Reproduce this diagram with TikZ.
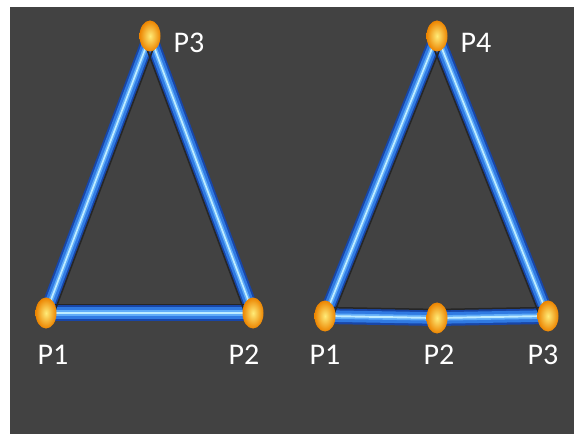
\documentclass[tikz,border=0pt]{standalone}
\usepackage{fontspec}
\setmainfont{Carlito}
\usetikzlibrary{calc,shapes.geometric}
\definecolor{bgGrey}{RGB}{66,66,66}
\definecolor{tubeDark}{RGB}{24,70,168}
\definecolor{tubeMid}{RGB}{48,122,226}
\definecolor{tubeSoft}{RGB}{96,172,248}
\definecolor{tubeLight}{RGB}{190,236,255}
\definecolor{bulbOut}{RGB}{236,132,0}
\definecolor{bulbIn}{RGB}{255,236,120}
\tikzset{
  tube/.style = {
    draw=tubeDark, line width=#1, line cap=round,
    postaction={draw=tubeMid, line width=0.72*#1},
    postaction={draw=tubeSoft, line width=0.34*#1},
    postaction={draw=tubeLight, line width=0.12*#1} % glossy stripe
  },
  tube/.default=14pt,
  rim/.style  = {draw=black!85, line width=1.5pt}, % dark inner edge
  bulb/.style = {ellipse, minimum width=21pt, minimum height=31pt,
    inner sep=0pt, inner color=bulbIn, outer color=bulbOut},
  lbl/.style  = {text=white, inner sep=0pt, font=\fontsize{30}{36}\selectfont}
}

\begin{document}
\begin{tikzpicture}[x=1pt, y=-1pt]
\fill[white] (0,0) rectangle (575,435);
\fill[bgGrey] (10,7) rectangle (574,434);
% left triangle
\coordinate (a1) at (46,313);
\coordinate (a2) at (253,313);
\coordinate (a3) at (150,36);
% right triangle
\coordinate (b1) at (325,316);
\coordinate (b2) at (437,318);
\coordinate (b3) at (548,316);
\coordinate (b4) at (437,36);
\foreach \p/\q in {a1/a3,a3/a2,b1/b4,b4/b3}
  \draw[tube] (\p) -- (\q);
\foreach \p/\q in {a2/a1,b3/b2,b2/b1}
  \draw[tube=16pt] (\p) -- (\q);
\foreach \p/\q in {a1/a3,a3/a2,b1/b4,b4/b3}
  \draw[rim] ($(\p)!7.5pt!-90:(\q)$) -- ($(\q)!7.5pt!90:(\p)$);
\foreach \p/\q in {a2/a1,b3/b2,b2/b1}
  \draw[rim] ($(\p)!8.5pt!-90:(\q)$) -- ($(\q)!8.5pt!90:(\p)$);
\foreach \p in {a1,a2,a3,b1,b2,b3,b4}
  \node[bulb] (\p n) at (\p) {};
\node[lbl] (la1) at (53,355) {P1};
\node[lbl] (la2) at (244,355) {P2};
\node[lbl] (la3) at (189,43) {P3};
\node[lbl] (lb1) at (325,355) {P1};
\node[lbl] (lb2) at (439,355) {P2};
\node[lbl] (lb3) at (543,355) {P3};
\node[lbl] (lb4) at (476,43) {P4};
\end{tikzpicture}
\end{document}
